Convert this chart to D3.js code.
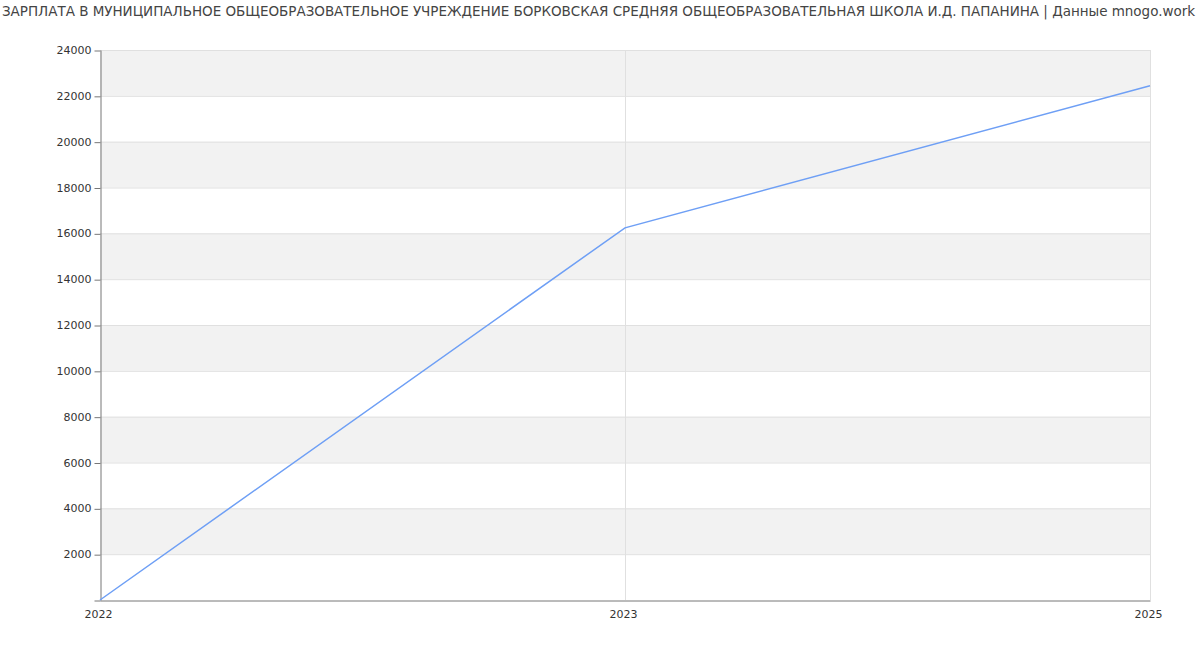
<!DOCTYPE html>
<html><head><meta charset="utf-8">
<script src="https://cdn.jsdelivr.net/npm/d3@7"></script>
<style>body{margin:0;background:#fff;font-family:"DejaVu Sans",sans-serif;}</style>
</head><body><svg id="c" width="1200" height="650"></svg>
<script>
const titleText = "ЗАРПЛАТА В МУНИЦИПАЛЬНОЕ ОБЩЕОБРАЗОВАТЕЛЬНОЕ УЧРЕЖДЕНИЕ БОРКОВСКАЯ СРЕДНЯЯ ОБЩЕОБРАЗОВАТЕЛЬНАЯ ШКОЛА И.Д. ПАПАНИНА | Данные mnogo.work";
const years = ["2022", "2023", "2025"];
const salaries = [0, 16240, 22440];
const yTicks = [2000,4000,6000,8000,10000,12000,14000,16000,18000,20000,22000,24000];

const svg = d3.select("#c");
const m = {l:100, r:1150, t:50, b:600};
const x = d3.scalePoint().domain(years).range([m.l, m.r]);
const y = d3.scaleLinear().domain([0,24000]).range([m.b, m.t]);

svg.append("text").attr("x",2).attr("y",16).attr("font-size",13.5).attr("fill","#444")
  .attr("font-family","DejaVu Sans").attr("textLength",1193).attr("lengthAdjust","spacing").text(titleText);

// bands
const bands = d3.range(0,24000,2000).filter((d,i)=>i%2===1);
svg.append("g").selectAll("rect").data(bands).join("rect")
  .attr("x",m.l).attr("width",m.r-m.l)
  .attr("y",d=>y(d+2000)).attr("height",d=>y(d)-y(d+2000))
  .attr("fill","#f2f2f2");

// horizontal grid
svg.append("g").selectAll("line").data(yTicks).join("line")
  .attr("x1",m.l).attr("x2",m.r).attr("y1",d=>y(d)+0.5).attr("y2",d=>y(d)+0.5)
  .attr("stroke","#e0e0e0");
// vertical grid
svg.append("g").selectAll("line").data(years.slice(1)).join("line")
  .attr("x1",d=>x(d)+0.5).attr("x2",d=>x(d)+0.5).attr("y1",m.t).attr("y2",m.b)
  .attr("stroke","#e0e0e0");

// y axis
const ya = svg.append("g").attr("transform",`translate(${m.l+0.5},0)`)
  .call(d3.axisLeft(y).tickValues([0].concat(yTicks)).tickFormat(d=>d===0?"":d).tickSize(6).tickSizeOuter(0));
ya.selectAll("path,line").attr("stroke","#777");
ya.selectAll("text").attr("font-size",11).attr("fill","#333").attr("font-family","DejaVu Sans");
ya.selectAll(".tick line").attr("transform","translate(0,0.5)");

// x axis
const xa = svg.append("g").attr("transform",`translate(0,${m.b+0.5})`)
  .call(d3.axisBottom(x).tickSize(0).tickSizeOuter(0).tickPadding(10));
xa.select("path").attr("stroke","#777");
xa.selectAll("text").attr("font-size",11).attr("fill","#333").attr("font-family","DejaVu Sans")
  .attr("dx",-2);

// line
const line = d3.line().x((d,i)=>x(years[i])).y(d=>y(d));
svg.append("path").datum(salaries).attr("d",line).attr("fill","none")
  .attr("stroke","#6e9ff5").attr("stroke-width",1.5);
</script></body></html>
